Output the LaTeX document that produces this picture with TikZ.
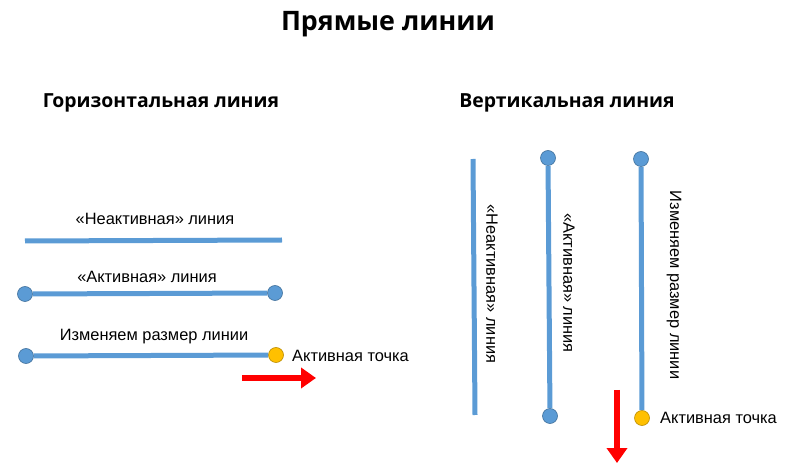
\documentclass[tikz,border=0pt]{standalone}
\usepackage{fontspec}
\setmainfont{Liberation Sans}
\newfontfamily\headfont{Open Sans}
\usetikzlibrary{arrows.meta}
\definecolor{lblue}{HTML}{5B9BD5}
\definecolor{dblue}{HTML}{41719C}
\definecolor{ayel}{HTML}{FFC000}
\definecolor{ayelb}{HTML}{BC8C00}
\tikzset{
  seg/.style={draw=lblue, line width=5pt},
  endpt/.style={circle, fill=lblue, draw=dblue, line width=0.6pt, minimum size=15pt, inner sep=0pt},
  actpt/.style={circle, fill=ayel, draw=ayelb, line width=0.6pt, minimum size=15pt, inner sep=0pt},
  lbl/.style={font=\fontsize{16.4}{19}\selectfont, inner sep=0pt},
  head/.style={font=\headfont\bfseries\fontsize{19.4}{23}\selectfont, inner sep=0pt},
  ttl/.style={font=\headfont\bfseries\fontsize{26.8}{32}\selectfont, inner sep=0pt},
  redarrow/.style={draw=red, line width=6pt, -{Triangle[length=15pt,width=20pt]}}
}
\begin{document}
\begin{tikzpicture}[x=1pt,y=-1pt]
\useasboundingbox (0,0) rectangle (793,470);
\node[ttl] (title) at (388,24) {Прямые линии};
\node[head] (hh) at (161,103) {Горизонтальная линия};
\node[head] (vh) at (567,103) {Вертикальная линия};
% horizontal
\coordinate (i1) at (25,241);
\coordinate (i2) at (282,240);
\draw[seg] (i1) -- (i2);
\node[lbl] (il) at (155,219) {«Неактивная» линия};
\node[endpt] (a1) at (25,294) {};
\node[endpt] (a2) at (275,293) {};
\draw[seg] (a1) -- (a2);
\node[lbl] (al) at (147,277) {«Активная» линия};
\node[endpt] (r1) at (26,356) {};
\node[actpt] (r2) at (276,355) {};
\draw[seg] (r1) -- (r2);
\node[lbl] (rl) at (154,337) {Изменяем размер линии};
\node[lbl, anchor=west] (rt) at (292,356) {Активная точка};
\coordinate (ha1) at (242,378);
\coordinate (ha2) at (316,378);
\draw[redarrow] (ha1) -- (ha2);
% vertical
\coordinate (vi1) at (473,159);
\coordinate (vi2) at (475,415);
\draw[seg] (vi1) -- (vi2);
\node[lbl, rotate=-90] (vil) at (492,284) {«Неактивная» линия};
\node[endpt] (va1) at (548,158) {};
\node[endpt] (va2) at (550,416) {};
\draw[seg] (va1) -- (va2);
\node[lbl, rotate=-90] (val) at (569,283) {«Активная» линия};
\node[endpt] (vr1) at (641,159) {};
\node[actpt] (vr2) at (642,418) {};
\draw[seg] (vr1) -- (vr2);
\node[lbl, rotate=-90] (vrl) at (674,285) {Изменяем размер линии};
\node[lbl, anchor=west] (vrt) at (660,418) {Активная точка};
\coordinate (va3) at (617,390);
\coordinate (va4) at (617,463);
\draw[redarrow] (va3) -- (va4);
\end{tikzpicture}
\end{document}
